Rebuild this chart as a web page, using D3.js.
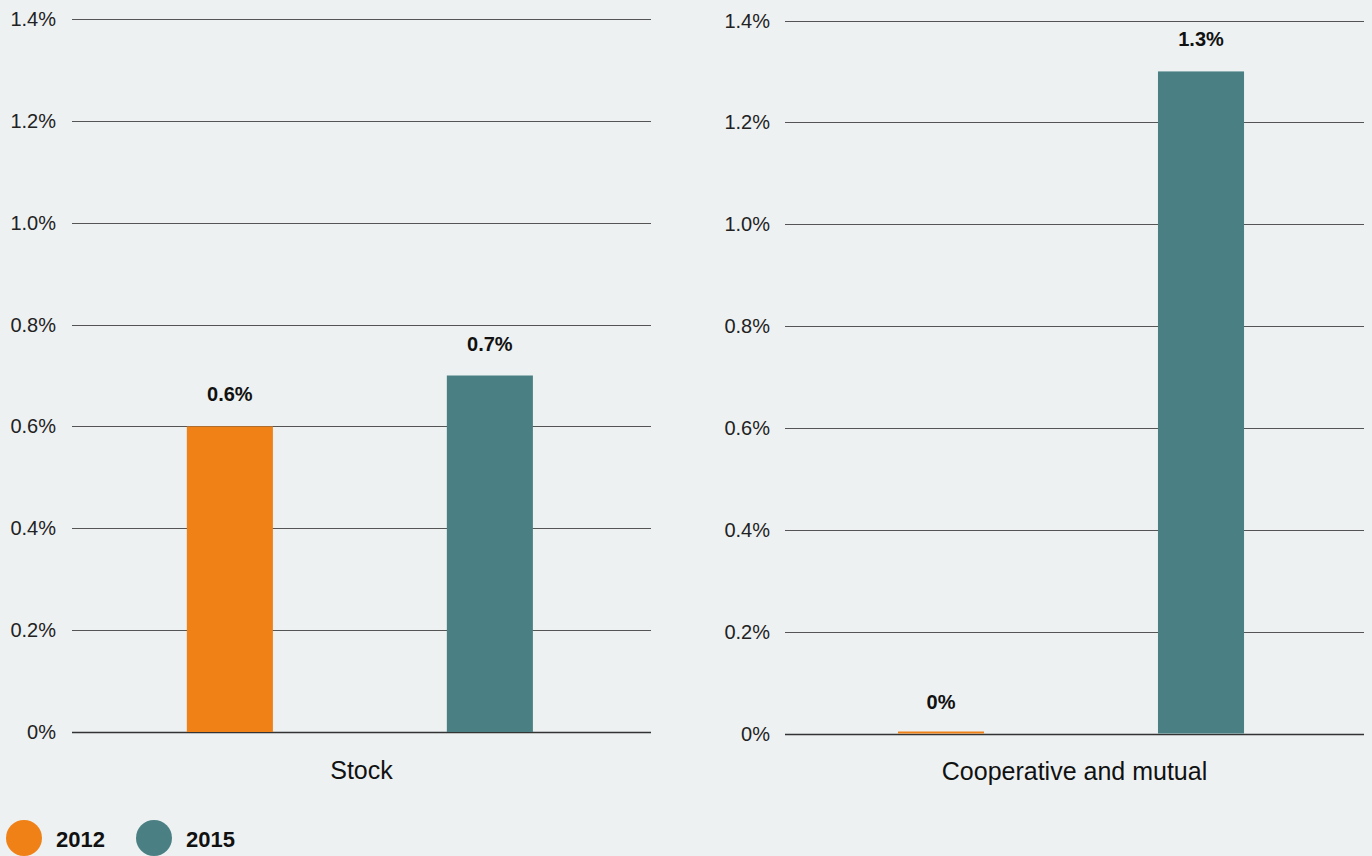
<!DOCTYPE html>
<html>
<head>
<meta charset="utf-8">
<script src="https://cdn.jsdelivr.net/npm/d3@7/dist/d3.min.js"></script>
<style>
  html, body { margin: 0; padding: 0; background: #edf1f2; }
  svg { display: block; }
  text { font-family: "Liberation Sans", Arial, sans-serif; fill: #111; }
</style>
</head>
<body>
<svg id="chart" width="1372" height="856"></svg>
<script>
// Ownership types and the share for each survey year
const panels = ["Stock", "Cooperative and mutual"];
const years = ["2012", "2015"];
const values2012 = [0.6, 0.0];
const values2015 = [0.7, 1.3];
const yTicks = [0, 0.2, 0.4, 0.6, 0.8, 1.0, 1.2, 1.4];
const colors = ["#ef8116", "#4a8083"];

const svg = d3.select("#chart");
const fmt = v => (v === 0 ? "0%" : d3.format(".1f")(v) + "%");

// Layout of the two side-by-side panels
const layout = [
  { x0: 72, x1: 651, top: 19, bottom: 732, labelX: 56, align: 0.493 },
  { x0: 785, x1: 1364, top: 20.5, bottom: 733.5, labelX: 770, align: 0.485 }
];

panels.forEach((name, p) => {
  const L = layout[p];
  const g = svg.append("g");
  const y = d3.scaleLinear().domain([0, 1.4]).range([L.bottom, L.top]);
  const x = d3.scaleBand().domain(years).range([L.x0, L.x1])
    .paddingInner(0.669).paddingOuter(0.448).align(L.align);

  // gridlines
  g.selectAll("line.grid").data(yTicks).join("line")
    .attr("x1", L.x0).attr("x2", L.x1)
    .attr("y1", d => Math.round(y(d)) + 0.5).attr("y2", d => Math.round(y(d)) + 0.5)
    .attr("stroke", d => d === 0 ? "#333" : "#555")
    .attr("stroke-width", d => d === 0 ? 1.6 : 1);

  // tick labels
  g.selectAll("text.tick").data(yTicks).join("text")
    .attr("x", L.labelX).attr("y", d => y(d))
    .attr("dy", "0.35em")
    .attr("text-anchor", "end")
    .style("font-size", "20px")
    .style("fill", "#222")
    .text(fmt);

  const data = years.map((yr, i) => ({ year: yr, value: [values2012, values2015][i][p], color: colors[i] }));

  // bars (a zero value still shows as a thin stroke on the baseline)
  g.selectAll("rect.bar").data(data).join("rect")
    .attr("x", d => x(d.year))
    .attr("width", x.bandwidth())
    .attr("y", d => Math.min(y(d.value), y(0) - 2))
    .attr("height", d => Math.max(y(0) - y(d.value), 2))
    .attr("fill", d => d.color);

  // value labels
  g.selectAll("text.val").data(data).join("text")
    .attr("x", d => x(d.year) + x.bandwidth() / 2)
    .attr("y", d => y(d.value) - 32)
    .attr("dy", "0.35em")
    .attr("text-anchor", "middle")
    .style("font-size", "20px")
    .style("font-weight", "bold")
    .text(d => fmt(d.value));

  // category label
  g.append("text")
    .attr("x", (L.x0 + L.x1) / 2)
    .attr("y", L.bottom + 38)
    .attr("dy", "0.35em")
    .attr("text-anchor", "middle")
    .style("font-size", "25px")
    .text(name);
});

// legend
const legend = svg.append("g");
const lx = [24, 154];
years.forEach((yr, i) => {
  legend.append("circle").attr("cx", lx[i]).attr("cy", 838).attr("r", 18).attr("fill", colors[i]);
  legend.append("text")
    .attr("x", lx[i] + 32).attr("y", 839)
    .attr("dy", "0.35em")
    .style("font-size", "22px")
    .style("font-weight", "bold")
    .text(yr);
});
</script>
</body>
</html>
